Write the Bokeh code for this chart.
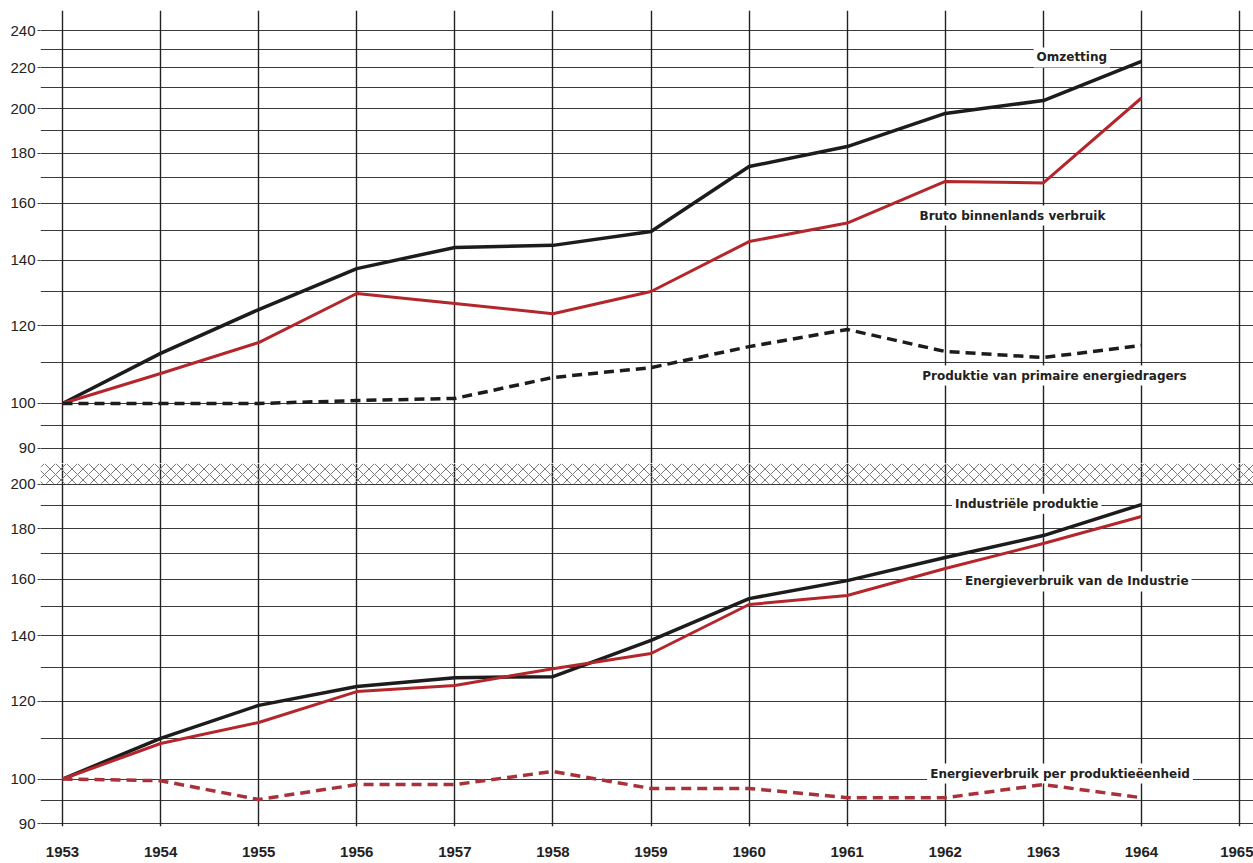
from bokeh.plotting import figure
from bokeh.layouts import column
from bokeh.models import (Range1d, FixedTicker, Grid, BoxAnnotation, Label,
                          BasicTickFormatter, LinearAxis)
from bokeh.embed import file_html
from bokeh.resources import INLINE

# ---------------- data ----------------
years = [1953, 1954, 1955, 1956, 1957, 1958, 1959, 1960, 1961, 1962, 1963, 1964]
grid_years = [1953, 1954, 1955, 1956, 1957, 1958, 1959, 1960, 1961, 1962, 1963, 1964, 1965]

# top panel
omzetting = [100, 112.5, 124.7, 137.3, 144.3, 145.0, 149.8, 174.5, 182.9, 197.7, 203.8, 223.4]
bruto_binnenlands = [100, 107.3, 115.4, 129.5, 126.5, 123.5, 130.1, 146.3, 152.8, 168.5, 167.9, 205.0]
produktie_primair = [100, 100, 100, 100.7, 101.2, 106.3, 108.8, 114.3, 119.0, 113.0, 111.4, 114.6]

# bottom panel
industriele_produktie = [100, 110.0, 118.9, 124.3, 126.9, 127.2, 138.5, 152.8, 159.4, 168.3, 177.2, 190.6]
energie_industrie = [100, 108.7, 114.2, 122.8, 124.6, 129.6, 134.3, 150.7, 153.9, 164.0, 173.9, 185.3]
energie_per_eenheid = [100, 99.6, 95.3, 98.7, 98.7, 101.8, 97.8, 97.8, 95.7, 95.7, 98.7, 95.7]

top_label_ticks = [90, 100, 120, 140, 160, 180, 200, 220, 240]
top_grid_ticks = [90, 95, 100, 110, 120, 130, 140, 150, 160, 170, 180, 190,
                  200, 210, 220, 230, 240]
bottom_label_ticks = [90, 100, 120, 140, 160, 180, 200]
bottom_grid_ticks = [90, 95, 100, 110, 120, 130, 140, 150, 160, 170, 180, 190, 200]

top_names = ["Omzetting", "Bruto binnenlands verbruik",
             "Produktie van primaire energiedragers"]
bottom_names = ["Industriële produktie", "Energieverbruik van de Industrie",
                "Energieverbruik per produktieëenheid"]

# ---------------- layout constants ----------------
X_RANGE = (1952.7757, 1965.1422)
TOP_Y_RANGE = (86.85, 251.8)
BOTTOM_Y_RANGE = (89.44, 209.9)
BREAK_BOTTOM = 200.2

top_label_pos = [(1963.29, 225.5), (1962.685, 155.5), (1963.113, 106.8)]
bottom_label_pos = [(1962.83, 191.0), (1963.34, 159.1), (1963.17, 101.3)]

BLACK = "#1c1c1c"
RED = "#b3262b"
RED_DASH = "#a8323a"
GRID = "#3a3a3a"
TICK_FONT = "Liberation Sans"
LABEL_FONT = "DejaVu Sans"


def make_fig(height, yr, label_ticks, grid_ticks, border_top, border_bottom):
    p = figure(width=1253, height=height,
               x_range=Range1d(*X_RANGE), y_range=Range1d(*yr),
               y_axis_type="log", x_axis_location=None,
               output_backend="svg", toolbar_location=None,
               min_border_left=40, min_border_right=0,
               min_border_top=border_top, min_border_bottom=border_bottom,
               background_fill_color="white", border_fill_color="white",
               outline_line_color=None)
    p.yaxis.ticker = FixedTicker(ticks=label_ticks)
    p.yaxis.formatter = BasicTickFormatter()
    p.yaxis.axis_line_color = None
    p.yaxis.minor_tick_line_color = None
    p.yaxis.major_tick_line_color = "#444"
    p.yaxis.major_tick_out = 3
    p.yaxis.major_tick_in = 0
    p.yaxis.major_label_standoff = 2
    p.yaxis.major_label_text_font = TICK_FONT
    p.yaxis.major_label_text_font_size = "15px"
    p.yaxis.major_label_text_color = "#222"
    p.ygrid.ticker = FixedTicker(ticks=grid_ticks)
    p.ygrid.grid_line_color = GRID
    p.ygrid.grid_line_width = 1.2
    p.ygrid.minor_grid_line_color = None
    p.add_layout(Grid(dimension=0, ticker=FixedTicker(ticks=grid_years),
                      grid_line_color="#222", grid_line_width=1.4))
    return p


def add_labels(p, names, positions):
    for name, (x, y) in zip(names, positions):
        p.add_layout(Label(x=x, y=y, text=name, text_align="center",
                           text_baseline="middle", text_font=LABEL_FONT,
                           text_font_size="12px", text_font_style="bold",
                           text_color="#222", background_fill_color="white",
                           background_fill_alpha=1.0, padding=3, level="underlay"))


# ---------------- top panel ----------------
p1 = make_fig(463, TOP_Y_RANGE, top_label_ticks, top_grid_ticks, 10, 0)
add_labels(p1, top_names, top_label_pos)
p1.line(years, omzetting, line_color=BLACK, line_width=3.5, line_join="round")
p1.line(years, bruto_binnenlands, line_color=RED, line_width=3, line_join="round")
p1.line(years, produktie_primair, line_color=BLACK, line_width=3.5,
        line_dash="10 6")

# ---------------- bottom panel ----------------
p2 = make_fig(400, BOTTOM_Y_RANGE, bottom_label_ticks, bottom_grid_ticks, 0, 37)
p2.add_layout(BoxAnnotation(bottom=BREAK_BOTTOM, fill_color="white", fill_alpha=0.0,
                            line_color=None, hatch_pattern="diagonal_cross",
                            hatch_color="#777", hatch_weight=1, hatch_scale=11))
xaxis = LinearAxis(ticker=FixedTicker(ticks=grid_years), axis_line_color=None,
                   major_tick_line_color=None, minor_tick_line_color=None,
                   major_label_standoff=14, major_label_text_font=TICK_FONT,
                   major_label_text_font_size="15px",
                   major_label_text_font_style="bold",
                   major_label_text_color="#222")
p2.add_layout(xaxis, "below")
add_labels(p2, bottom_names, bottom_label_pos)
p2.line(years, industriele_produktie, line_color=BLACK, line_width=3.5, line_join="round")
p2.line(years, energie_industrie, line_color=RED, line_width=3, line_join="round")
p2.line(years, energie_per_eenheid, line_color=RED_DASH, line_width=3.5,
        line_dash="10 6")

layout = column(p1, p2, spacing=0)
open("out.html", "w").write(file_html(layout, INLINE))
